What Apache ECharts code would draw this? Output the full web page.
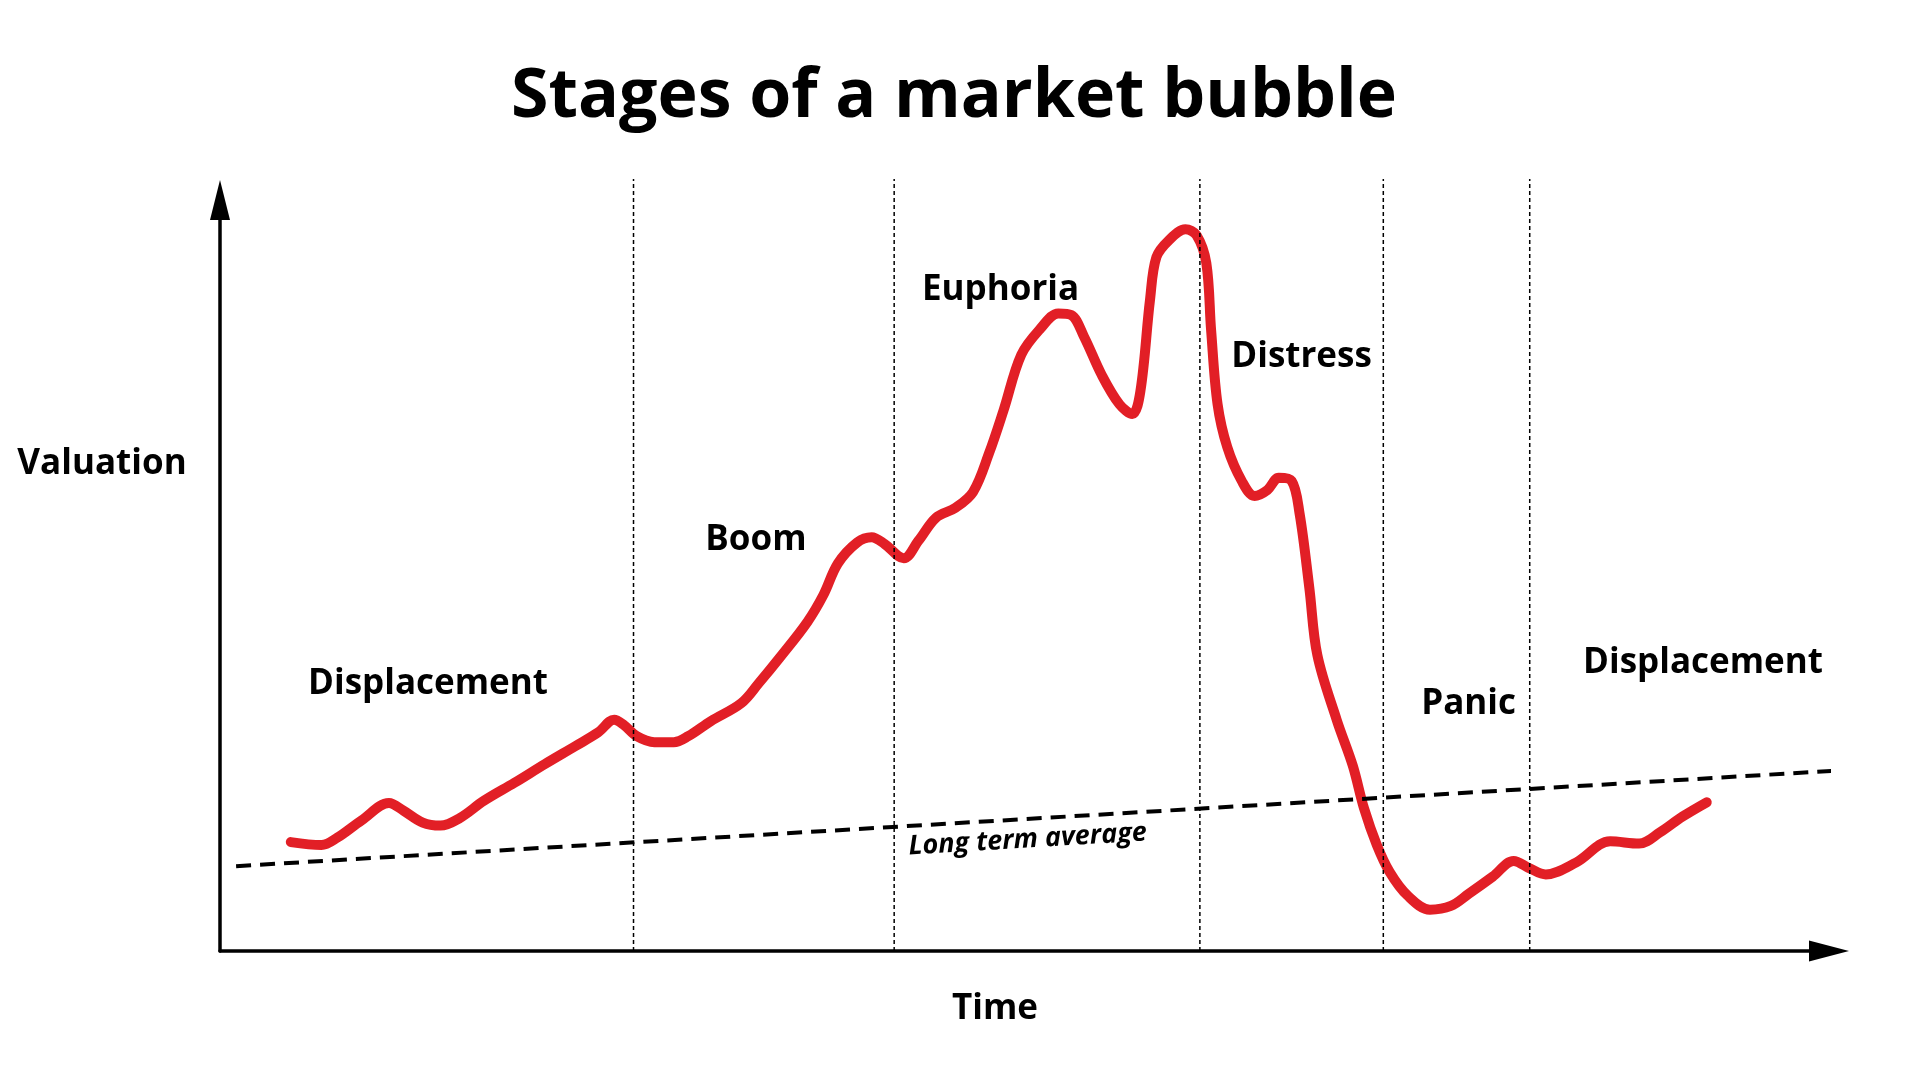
<!DOCTYPE html>
<html>
<head>
<meta charset="utf-8">
<script src="https://cdn.jsdelivr.net/npm/echarts@6/dist/echarts.min.js"></script>
<style>
  html, body { margin: 0; padding: 0; background: #ffffff; }
  #chart { width: 1920px; height: 1080px; }
</style>
</head>
<body>
<div id="chart"></div>
<script>
// ---- Data (Time 0..100, Valuation 0..100) ----
const titleText = 'Stages of a market bubble';
const yAxisTitle = 'Valuation';
const xAxisTitle = 'Time';

// Red valuation curve
const curveTime = [4.4, 6.3, 7.3, 8.8, 10.5, 11.4, 12.6, 13.7, 14.9, 16.4,
  18.3, 20.2, 22.1, 23.5, 24.5, 25.1, 25.9, 27.0, 28.2, 29.1,
  30.5, 32.4, 33.5, 34.8, 36.5, 37.5, 38.4, 39.6, 40.5, 41.3,
  42.5, 43.4, 44.5, 45.7, 46.8, 47.8, 48.7, 49.8, 51.0, 52.1,
  52.9, 53.7, 54.8, 55.9, 56.7, 57.2, 57.8, 58.2, 59.0, 60.0,
  60.7, 61.3, 61.6, 62.0, 62.6, 63.5, 64.3, 65.1, 65.8, 66.6,
  67.1, 67.7, 68.2, 69.4, 70.4, 71.1, 71.9, 72.7, 73.8, 75.2,
  76.5, 77.6, 79.1, 80.4, 81.4, 82.4, 84.3, 86.4, 88.2, 89.5,
  90.9, 92.4];
const curveValuation = [14.5, 14.1, 15.1, 17.4, 19.7, 18.7, 17.1, 16.7, 17.7, 20.0,
  22.4, 24.9, 27.3, 29.1, 30.8, 30.1, 28.6, 27.8, 27.8, 28.6,
  30.6, 33.0, 35.7, 39.1, 43.8, 47.4, 51.6, 54.4, 55.1, 54.2,
  52.3, 54.6, 57.7, 59.0, 61.1, 66.3, 72.0, 79.4, 82.9, 84.9,
  84.7, 81.8, 76.7, 72.8, 71.5, 74.5, 86.7, 92.4, 94.7, 96.1,
  95.3, 91.6, 82.6, 72.8, 67.1, 62.6, 60.6, 61.4, 63.0, 62.6,
  58.2, 48.4, 39.4, 30.8, 24.7, 19.0, 14.1, 10.5, 7.4, 5.5,
  6.0, 7.6, 9.9, 12.0, 11.0, 10.2, 11.8, 14.6, 14.3, 15.8,
  17.9, 19.8];

// Long term average (straight trend line)
const averageTime = [1.0, 101.1];
const averageValuation = [11.3, 24.1];
const averageLabel = 'Long term average';
const averageLabelAt = [50.2, 14.8];

// Phase boundaries (vertical dotted lines)
const boundaryTime = [25.7, 41.9, 60.9, 72.3, 81.4];
const boundaryTop = 102.8;

// Phase names and where they sit
const phaseNames = ['Displacement', 'Boom', 'Euphoria', 'Distress', 'Panic', 'Displacement'];
const phaseTime = [12.93, 33.31, 48.51, 67.22, 77.6, 92.17];
const phaseValuation = [35.5, 54.7, 88.0, 79.1, 32.9, 38.4];

// ---- Chart ----
const FONT = '"Open Sans", "Noto Sans", sans-serif';
const curveData = curveTime.map((t, i) => [t, curveValuation[i]]);
const averageData = averageTime.map((t, i) => [t, averageValuation[i]]);
const phaseData = phaseNames.map((n, i) => ({ name: n, value: [phaseTime[i], phaseValuation[i]] }));

const series = [];
series.push({
  type: 'line',
  data: curveData,
  smooth: 0.35,
  showSymbol: false,
  symbol: 'none',
  z: 2,
  lineStyle: { color: '#e21f26', width: 10, cap: 'round', join: 'round' }
});
series.push({
  type: 'line',
  data: averageData,
  showSymbol: false,
  symbol: 'none',
  clip: false,
  z: 3,
  lineStyle: { color: '#000000', width: 4, type: [15, 9] }
});
boundaryTime.forEach(t => {
  series.push({
    type: 'line',
    data: [[t, 0], [t, boundaryTop]],
    showSymbol: false,
    symbol: 'none',
    clip: false,
    z: 4,
    lineStyle: { color: '#000000', width: 1.5, type: [4, 3] }
  });
});
series.push({
  type: 'scatter',
  data: phaseData,
  symbolSize: 0,
  clip: false,
  z: 5,
  itemStyle: { opacity: 1 },
  label: {
    show: true,
    position: 'inside',
    formatter: p => p.name,
    fontFamily: FONT,
    fontWeight: 'bold',
    fontSize: 35,
    color: '#000000'
  }
});
series.push({
  type: 'scatter',
  data: [{ name: averageLabel, value: averageLabelAt }],
  symbolSize: 0,
  clip: false,
  z: 5,
  itemStyle: { opacity: 1 },
  label: {
    show: true,
    position: 'inside',
    formatter: p => p.name,
    rotate: 3.4,
    fontFamily: FONT,
    fontWeight: 'bold',
    fontStyle: 'italic',
    fontSize: 27,
    color: '#000000'
  }
});

const option = {
  animation: false,
  backgroundColor: '#ffffff',
  title: {
    text: titleText,
    left: 954,
    top: 64,
    padding: 0,
    textAlign: 'center',
    textStyle: { fontFamily: FONT, fontWeight: 'bold', fontSize: 68, color: '#000000' }
  },
  grid: { left: 220, right: 91, top: 200, bottom: 129, containLabel: false },
  xAxis: {
    type: 'value',
    min: 0,
    max: 100,
    splitLine: { show: false },
    axisTick: { show: false },
    axisLabel: { show: false },
    axisLine: {
      show: true,
      onZero: false,
      symbol: ['none', 'triangle'],
      symbolSize: [21, 40],
      lineStyle: { color: '#000000', width: 3.5 }
    }
  },
  yAxis: {
    type: 'value',
    min: 0,
    max: 100,
    splitLine: { show: false },
    axisTick: { show: false },
    axisLabel: { show: false },
    axisLine: {
      show: true,
      onZero: false,
      symbol: ['none', 'triangle'],
      symbolSize: [20, 40],
      lineStyle: { color: '#000000', width: 3.5 }
    }
  },
  graphic: [
    {
      type: 'text',
      x: 102, y: 464,
      style: { text: yAxisTitle, font: 'bold 35px ' + FONT, fill: '#000000', textAlign: 'center', textVerticalAlign: 'middle' }
    },
    {
      type: 'text',
      x: 995, y: 1009,
      style: { text: xAxisTitle, font: 'bold 35px ' + FONT, fill: '#000000', textAlign: 'center', textVerticalAlign: 'middle' }
    }
  ],
  series: series
};

const chart = echarts.init(document.getElementById('chart'), null, { renderer: 'canvas' });
chart.setOption(option);
</script>
</body>
</html>
